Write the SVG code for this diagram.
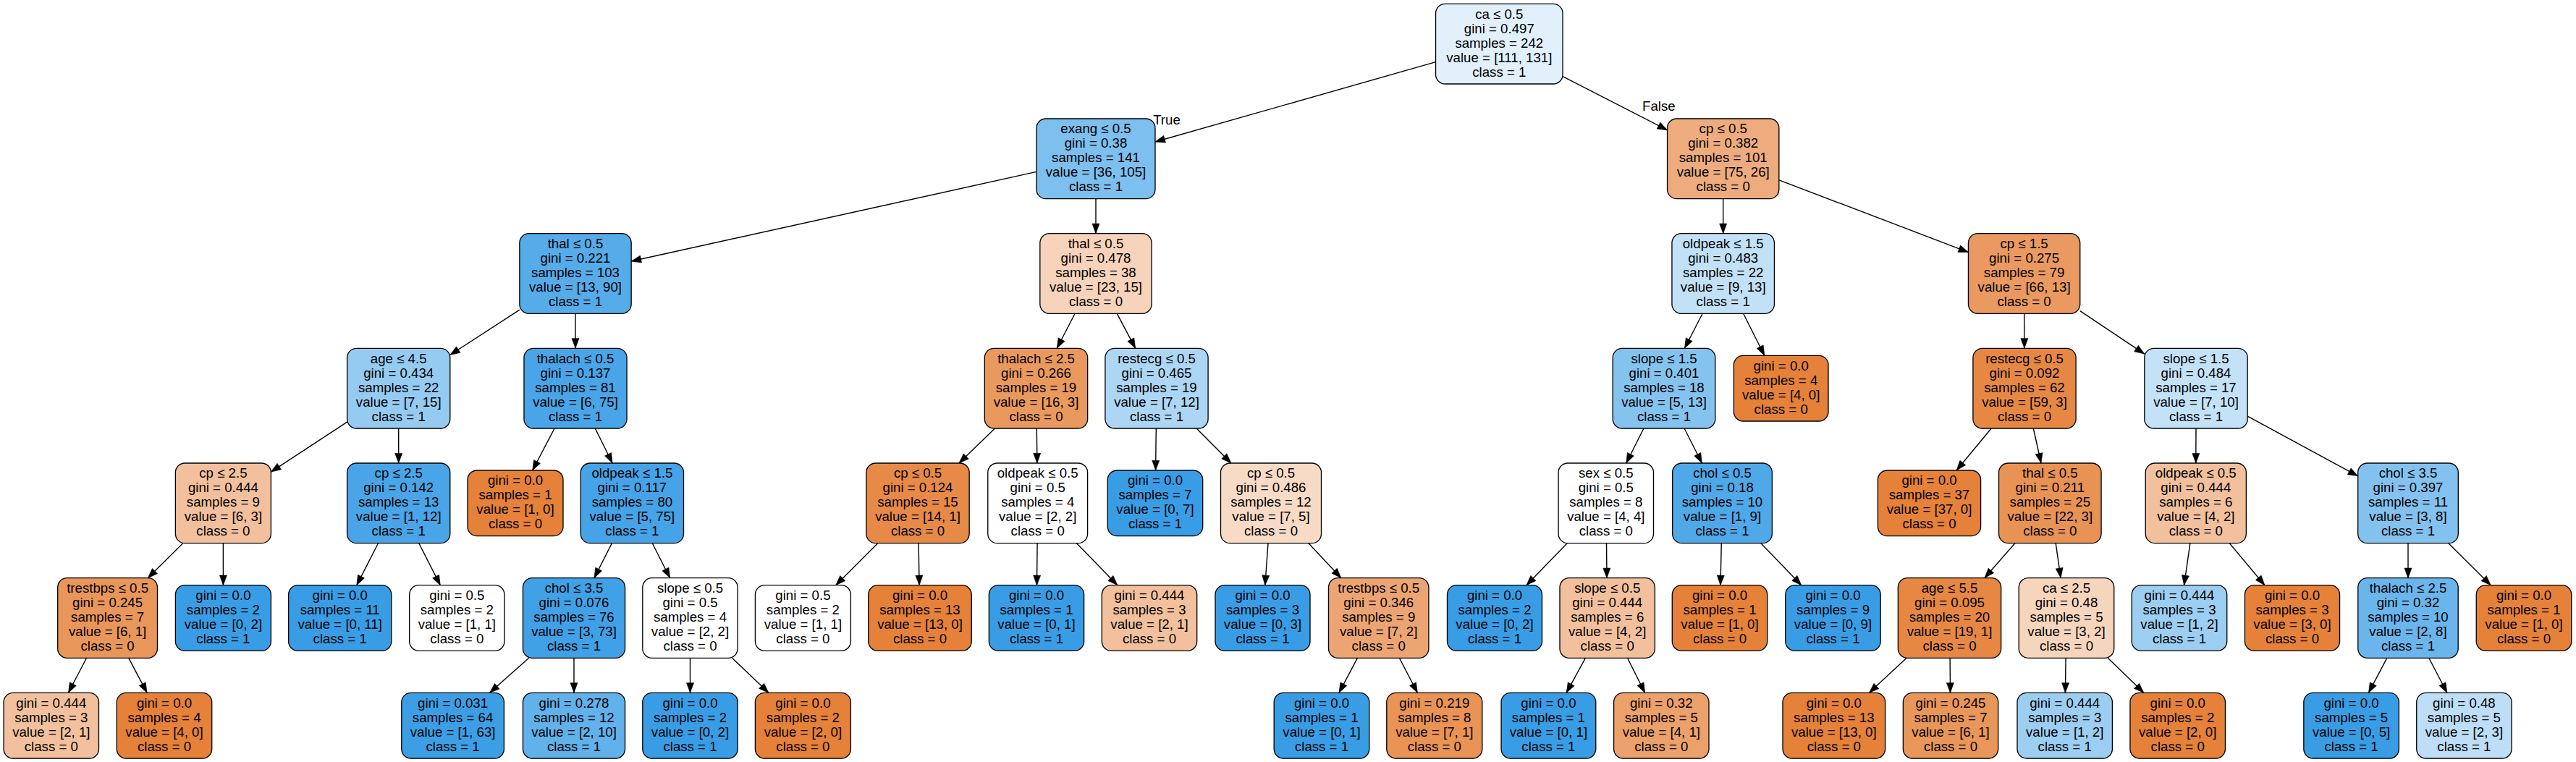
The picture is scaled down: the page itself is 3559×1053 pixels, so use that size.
<svg xmlns="http://www.w3.org/2000/svg" width="3559" height="1053" viewBox="0 0 3559 1053">
<style>
.nd rect{stroke:#000;stroke-width:1.33}
.nd text,.lbl{font-family:"Liberation Sans",Arial,Helvetica,sans-serif;font-size:18.67px;text-anchor:middle;fill:#000}
#edges line{stroke:#000;stroke-width:1.4;fill:none;marker-end:url(#arr)}
</style>
<defs>
<marker id="arr" markerUnits="userSpaceOnUse" markerWidth="16" markerHeight="12" refX="13.6" refY="5" orient="auto" overflow="visible"><path d="M0,0 L13.6,5 L0,10 Z" fill="#000" stroke="#000" stroke-width="0.6" stroke-linejoin="round"/></marker>
</defs>
<rect x="0" y="0" width="3559" height="1053" fill="#fff"/>
<g id="edges">
<line x1="1983.6" y1="85.7" x2="1596" y2="196"/>
<line x1="2159.1" y1="105.7" x2="2303.6" y2="179.8"/>
<line x1="1432" y1="237.4" x2="872.2" y2="361"/>
<line x1="1514" y1="274.7" x2="1514" y2="322.7"/>
<line x1="717.9" y1="428.1" x2="621.8" y2="490.5"/>
<line x1="795" y1="433.3" x2="795" y2="481.3"/>
<line x1="479.6" y1="583.2" x2="374.4" y2="652.1"/>
<line x1="550.7" y1="592" x2="550.7" y2="640"/>
<line x1="252.7" y1="750.7" x2="204.3" y2="798.7"/>
<line x1="308.4" y1="750.7" x2="308.4" y2="808.7"/>
<line x1="119.6" y1="909.3" x2="94.5" y2="957.3"/>
<line x1="177.8" y1="909.3" x2="203.1" y2="957.3"/>
<line x1="522.5" y1="750.7" x2="492.8" y2="808.7"/>
<line x1="578.8" y1="750.7" x2="608.3" y2="808.7"/>
<line x1="766.1" y1="592" x2="735.7" y2="650"/>
<line x1="822.3" y1="592" x2="846.1" y2="640"/>
<line x1="845.4" y1="750.7" x2="821" y2="798.7"/>
<line x1="901.3" y1="750.7" x2="925.6" y2="798.7"/>
<line x1="730.7" y1="909.3" x2="676.6" y2="957.3"/>
<line x1="793" y1="909.3" x2="793" y2="957.3"/>
<line x1="953.5" y1="909.3" x2="953.5" y2="957.3"/>
<line x1="1011.5" y1="909.3" x2="1061.9" y2="957.3"/>
<line x1="1485.2" y1="433.3" x2="1460.3" y2="481.3"/>
<line x1="1543.3" y1="433.3" x2="1568.7" y2="481.3"/>
<line x1="1374.5" y1="592" x2="1325" y2="640"/>
<line x1="1432.3" y1="592" x2="1432.9" y2="640"/>
<line x1="1212.7" y1="750.7" x2="1154.7" y2="808.7"/>
<line x1="1269.1" y1="750.7" x2="1270.1" y2="808.7"/>
<line x1="1433.1" y1="750.7" x2="1432.5" y2="808.7"/>
<line x1="1487.5" y1="750.7" x2="1543.9" y2="808.7"/>
<line x1="1597.3" y1="592" x2="1596.6" y2="650"/>
<line x1="1653.1" y1="592" x2="1700.9" y2="640"/>
<line x1="1752" y1="750.7" x2="1747.8" y2="808.7"/>
<line x1="1807.9" y1="750.7" x2="1852.9" y2="798.7"/>
<line x1="1875.4" y1="909.3" x2="1850" y2="957.3"/>
<line x1="1933.4" y1="909.3" x2="1958.3" y2="957.3"/>
<line x1="2380.7" y1="274.7" x2="2380.7" y2="322.7"/>
<line x1="2457.9" y1="248.8" x2="2719.5" y2="348.6"/>
<line x1="2352.2" y1="433.3" x2="2327.5" y2="481.3"/>
<line x1="2408.6" y1="433.3" x2="2437.8" y2="491.3"/>
<line x1="2271" y1="592" x2="2246.8" y2="640"/>
<line x1="2327.1" y1="592" x2="2351.4" y2="640"/>
<line x1="2165.2" y1="750.7" x2="2108.9" y2="808.7"/>
<line x1="2219.5" y1="750.7" x2="2220" y2="798.7"/>
<line x1="2190.4" y1="909.3" x2="2164.2" y2="957.3"/>
<line x1="2248.5" y1="909.3" x2="2272.6" y2="957.3"/>
<line x1="2378.3" y1="750.7" x2="2377" y2="808.7"/>
<line x1="2432.9" y1="750.7" x2="2488.8" y2="808.7"/>
<line x1="2796.7" y1="433.3" x2="2796.9" y2="481.3"/>
<line x1="2873.8" y1="429.6" x2="2962.8" y2="489.1"/>
<line x1="2751.2" y1="592" x2="2703.1" y2="650"/>
<line x1="2809.3" y1="592" x2="2820" y2="640"/>
<line x1="2783.9" y1="750.7" x2="2741.9" y2="798.7"/>
<line x1="2840.2" y1="750.7" x2="2847.1" y2="798.7"/>
<line x1="2634.1" y1="909.3" x2="2582.5" y2="957.3"/>
<line x1="2694.1" y1="909.3" x2="2694.5" y2="957.3"/>
<line x1="2854.1" y1="909.3" x2="2853.4" y2="957.3"/>
<line x1="2912.2" y1="909.3" x2="2961.8" y2="957.3"/>
<line x1="3034" y1="592" x2="3033.8" y2="640"/>
<line x1="3105.2" y1="575.2" x2="3257.7" y2="657.8"/>
<line x1="3025.9" y1="750.7" x2="3017.5" y2="808.7"/>
<line x1="3080.3" y1="750.7" x2="3128.9" y2="808.7"/>
<line x1="3327" y1="750.7" x2="3327" y2="798.7"/>
<line x1="3382.8" y1="750.7" x2="3441.3" y2="808.7"/>
<line x1="3297.8" y1="909.3" x2="3272.5" y2="957.3"/>
<line x1="3355.8" y1="909.3" x2="3380.8" y2="957.3"/>
<text class="lbl" x="1612" y="171.7">True</text>
<text class="lbl" x="2291.8" y="153.3">False</text>
</g>
<g id="n0" class="nd" transform="translate(2071.3,60.67)"><rect x="-87.75" y="-55.33" width="175.5" height="110.67" rx="13" fill="#e1f0fb"/><text><tspan x="0" y="-35.07">ca ≤ 0.5</tspan><tspan x="0" y="-15.07">gini = 0.497</tspan><tspan x="0" y="4.93">samples = 242</tspan><tspan x="0" y="24.93">value = [111, 131]</tspan><tspan x="0" y="44.93">class = 1</tspan></text></g>
<g id="n1" class="nd" transform="translate(1514,219.33)"><rect x="-82" y="-55.33" width="164" height="110.67" rx="13" fill="#7dbfee"/><text><tspan x="0" y="-35.07">exang ≤ 0.5</tspan><tspan x="0" y="-15.07">gini = 0.38</tspan><tspan x="0" y="4.93">samples = 141</tspan><tspan x="0" y="24.93">value = [36, 105]</tspan><tspan x="0" y="44.93">class = 1</tspan></text></g>
<g id="n2" class="nd" transform="translate(795,378)"><rect x="-77.15" y="-55.33" width="154.3" height="110.67" rx="13" fill="#56abe9"/><text><tspan x="0" y="-35.07">thal ≤ 0.5</tspan><tspan x="0" y="-15.07">gini = 0.221</tspan><tspan x="0" y="4.93">samples = 103</tspan><tspan x="0" y="24.93">value = [13, 90]</tspan><tspan x="0" y="44.93">class = 1</tspan></text></g>
<g id="n3" class="nd" transform="translate(550.7,536.67)"><rect x="-71.1" y="-55.33" width="142.2" height="110.67" rx="13" fill="#95cbf1"/><text><tspan x="0" y="-35.07">age ≤ 4.5</tspan><tspan x="0" y="-15.07">gini = 0.434</tspan><tspan x="0" y="4.93">samples = 22</tspan><tspan x="0" y="24.93">value = [7, 15]</tspan><tspan x="0" y="44.93">class = 1</tspan></text></g>
<g id="n4" class="nd" transform="translate(308.4,695.33)"><rect x="-66" y="-55.33" width="132" height="110.67" rx="13" fill="#f2c09c"/><text><tspan x="0" y="-35.07">cp ≤ 2.5</tspan><tspan x="0" y="-15.07">gini = 0.444</tspan><tspan x="0" y="4.93">samples = 9</tspan><tspan x="0" y="24.93">value = [6, 3]</tspan><tspan x="0" y="44.93">class = 0</tspan></text></g>
<g id="n5" class="nd" transform="translate(148.6,854)"><rect x="-68.9" y="-55.33" width="137.8" height="110.67" rx="13" fill="#e9965a"/><text><tspan x="0" y="-35.07">trestbps ≤ 0.5</tspan><tspan x="0" y="-15.07">gini = 0.245</tspan><tspan x="0" y="4.93">samples = 7</tspan><tspan x="0" y="24.93">value = [6, 1]</tspan><tspan x="0" y="44.93">class = 0</tspan></text></g>
<g id="n6" class="nd" transform="translate(70.8,1002.67)"><rect x="-65.7" y="-45.33" width="131.4" height="90.67" rx="13" fill="#f2c09c"/><text><tspan x="0" y="-25.07">gini = 0.444</tspan><tspan x="0" y="-5.07">samples = 3</tspan><tspan x="0" y="14.93">value = [2, 1]</tspan><tspan x="0" y="34.93">class = 0</tspan></text></g>
<g id="n7" class="nd" transform="translate(227,1002.67)"><rect x="-65.7" y="-45.33" width="131.4" height="90.67" rx="13" fill="#e58139"/><text><tspan x="0" y="-25.07">gini = 0.0</tspan><tspan x="0" y="-5.07">samples = 4</tspan><tspan x="0" y="14.93">value = [4, 0]</tspan><tspan x="0" y="34.93">class = 0</tspan></text></g>
<g id="n8" class="nd" transform="translate(308.4,854)"><rect x="-66" y="-45.33" width="132" height="90.67" rx="13" fill="#399de5"/><text><tspan x="0" y="-25.07">gini = 0.0</tspan><tspan x="0" y="-5.07">samples = 2</tspan><tspan x="0" y="14.93">value = [0, 2]</tspan><tspan x="0" y="34.93">class = 1</tspan></text></g>
<g id="n9" class="nd" transform="translate(550.7,695.33)"><rect x="-71.1" y="-55.33" width="142.2" height="110.67" rx="13" fill="#49a5e7"/><text><tspan x="0" y="-35.07">cp ≤ 2.5</tspan><tspan x="0" y="-15.07">gini = 0.142</tspan><tspan x="0" y="4.93">samples = 13</tspan><tspan x="0" y="24.93">value = [1, 12]</tspan><tspan x="0" y="44.93">class = 1</tspan></text></g>
<g id="n10" class="nd" transform="translate(469.7,854)"><rect x="-71.1" y="-45.33" width="142.2" height="90.67" rx="13" fill="#399de5"/><text><tspan x="0" y="-25.07">gini = 0.0</tspan><tspan x="0" y="-5.07">samples = 11</tspan><tspan x="0" y="14.93">value = [0, 11]</tspan><tspan x="0" y="34.93">class = 1</tspan></text></g>
<g id="n11" class="nd" transform="translate(631.3,854)"><rect x="-65.65" y="-45.33" width="131.3" height="90.67" rx="13" fill="#ffffff"/><text><tspan x="0" y="-25.07">gini = 0.5</tspan><tspan x="0" y="-5.07">samples = 2</tspan><tspan x="0" y="14.93">value = [1, 1]</tspan><tspan x="0" y="34.93">class = 0</tspan></text></g>
<g id="n12" class="nd" transform="translate(795,536.67)"><rect x="-71.05" y="-55.33" width="142.1" height="110.67" rx="13" fill="#49a5e7"/><text><tspan x="0" y="-35.07">thalach ≤ 0.5</tspan><tspan x="0" y="-15.07">gini = 0.137</tspan><tspan x="0" y="4.93">samples = 81</tspan><tspan x="0" y="24.93">value = [6, 75]</tspan><tspan x="0" y="44.93">class = 1</tspan></text></g>
<g id="n13" class="nd" transform="translate(712,695.33)"><rect x="-66" y="-45.33" width="132" height="90.67" rx="13" fill="#e58139"/><text><tspan x="0" y="-25.07">gini = 0.0</tspan><tspan x="0" y="-5.07">samples = 1</tspan><tspan x="0" y="14.93">value = [1, 0]</tspan><tspan x="0" y="34.93">class = 0</tspan></text></g>
<g id="n14" class="nd" transform="translate(873.4,695.33)"><rect x="-71.1" y="-55.33" width="142.2" height="110.67" rx="13" fill="#46a3e7"/><text><tspan x="0" y="-35.07">oldpeak ≤ 1.5</tspan><tspan x="0" y="-15.07">gini = 0.117</tspan><tspan x="0" y="4.93">samples = 80</tspan><tspan x="0" y="24.93">value = [5, 75]</tspan><tspan x="0" y="44.93">class = 1</tspan></text></g>
<g id="n15" class="nd" transform="translate(793,854)"><rect x="-70.55" y="-55.33" width="141.1" height="110.67" rx="13" fill="#41a1e6"/><text><tspan x="0" y="-35.07">chol ≤ 3.5</tspan><tspan x="0" y="-15.07">gini = 0.076</tspan><tspan x="0" y="4.93">samples = 76</tspan><tspan x="0" y="24.93">value = [3, 73]</tspan><tspan x="0" y="44.93">class = 1</tspan></text></g>
<g id="n16" class="nd" transform="translate(625.6,1002.67)"><rect x="-70.8" y="-45.33" width="141.6" height="90.67" rx="13" fill="#3c9fe5"/><text><tspan x="0" y="-25.07">gini = 0.031</tspan><tspan x="0" y="-5.07">samples = 64</tspan><tspan x="0" y="14.93">value = [1, 63]</tspan><tspan x="0" y="34.93">class = 1</tspan></text></g>
<g id="n17" class="nd" transform="translate(793,1002.67)"><rect x="-70.55" y="-45.33" width="141.1" height="90.67" rx="13" fill="#61b1ea"/><text><tspan x="0" y="-25.07">gini = 0.278</tspan><tspan x="0" y="-5.07">samples = 12</tspan><tspan x="0" y="14.93">value = [2, 10]</tspan><tspan x="0" y="34.93">class = 1</tspan></text></g>
<g id="n18" class="nd" transform="translate(953.5,854)"><rect x="-65.7" y="-55.33" width="131.4" height="110.67" rx="13" fill="#ffffff"/><text><tspan x="0" y="-35.07">slope ≤ 0.5</tspan><tspan x="0" y="-15.07">gini = 0.5</tspan><tspan x="0" y="4.93">samples = 4</tspan><tspan x="0" y="24.93">value = [2, 2]</tspan><tspan x="0" y="44.93">class = 0</tspan></text></g>
<g id="n19" class="nd" transform="translate(953.5,1002.67)"><rect x="-65.7" y="-45.33" width="131.4" height="90.67" rx="13" fill="#399de5"/><text><tspan x="0" y="-25.07">gini = 0.0</tspan><tspan x="0" y="-5.07">samples = 2</tspan><tspan x="0" y="14.93">value = [0, 2]</tspan><tspan x="0" y="34.93">class = 1</tspan></text></g>
<g id="n20" class="nd" transform="translate(1109.4,1002.67)"><rect x="-66" y="-45.33" width="132" height="90.67" rx="13" fill="#e58139"/><text><tspan x="0" y="-25.07">gini = 0.0</tspan><tspan x="0" y="-5.07">samples = 2</tspan><tspan x="0" y="14.93">value = [2, 0]</tspan><tspan x="0" y="34.93">class = 0</tspan></text></g>
<g id="n21" class="nd" transform="translate(1514,378)"><rect x="-77.15" y="-55.33" width="154.3" height="110.67" rx="13" fill="#f6d3ba"/><text><tspan x="0" y="-35.07">thal ≤ 0.5</tspan><tspan x="0" y="-15.07">gini = 0.478</tspan><tspan x="0" y="4.93">samples = 38</tspan><tspan x="0" y="24.93">value = [23, 15]</tspan><tspan x="0" y="44.93">class = 0</tspan></text></g>
<g id="n22" class="nd" transform="translate(1431.5,536.67)"><rect x="-71.15" y="-55.33" width="142.3" height="110.67" rx="13" fill="#ea995e"/><text><tspan x="0" y="-35.07">thalach ≤ 2.5</tspan><tspan x="0" y="-15.07">gini = 0.266</tspan><tspan x="0" y="4.93">samples = 19</tspan><tspan x="0" y="24.93">value = [16, 3]</tspan><tspan x="0" y="44.93">class = 0</tspan></text></g>
<g id="n23" class="nd" transform="translate(1268,695.33)"><rect x="-71.15" y="-55.33" width="142.3" height="110.67" rx="13" fill="#e78a47"/><text><tspan x="0" y="-35.07">cp ≤ 0.5</tspan><tspan x="0" y="-15.07">gini = 0.124</tspan><tspan x="0" y="4.93">samples = 15</tspan><tspan x="0" y="24.93">value = [14, 1]</tspan><tspan x="0" y="44.93">class = 0</tspan></text></g>
<g id="n24" class="nd" transform="translate(1109.4,854)"><rect x="-66" y="-45.33" width="132" height="90.67" rx="13" fill="#ffffff"/><text><tspan x="0" y="-25.07">gini = 0.5</tspan><tspan x="0" y="-5.07">samples = 2</tspan><tspan x="0" y="14.93">value = [1, 1]</tspan><tspan x="0" y="34.93">class = 0</tspan></text></g>
<g id="n25" class="nd" transform="translate(1271,854)"><rect x="-71.25" y="-45.33" width="142.5" height="90.67" rx="13" fill="#e58139"/><text><tspan x="0" y="-25.07">gini = 0.0</tspan><tspan x="0" y="-5.07">samples = 13</tspan><tspan x="0" y="14.93">value = [13, 0]</tspan><tspan x="0" y="34.93">class = 0</tspan></text></g>
<g id="n26" class="nd" transform="translate(1433.7,695.33)"><rect x="-68.9" y="-55.33" width="137.8" height="110.67" rx="13" fill="#ffffff"/><text><tspan x="0" y="-35.07">oldpeak ≤ 0.5</tspan><tspan x="0" y="-15.07">gini = 0.5</tspan><tspan x="0" y="4.93">samples = 4</tspan><tspan x="0" y="24.93">value = [2, 2]</tspan><tspan x="0" y="44.93">class = 0</tspan></text></g>
<g id="n27" class="nd" transform="translate(1432,854)"><rect x="-65.65" y="-45.33" width="131.3" height="90.67" rx="13" fill="#399de5"/><text><tspan x="0" y="-25.07">gini = 0.0</tspan><tspan x="0" y="-5.07">samples = 1</tspan><tspan x="0" y="14.93">value = [0, 1]</tspan><tspan x="0" y="34.93">class = 1</tspan></text></g>
<g id="n28" class="nd" transform="translate(1588,854)"><rect x="-65.7" y="-45.33" width="131.4" height="90.67" rx="13" fill="#f2c09c"/><text><tspan x="0" y="-25.07">gini = 0.444</tspan><tspan x="0" y="-5.07">samples = 3</tspan><tspan x="0" y="14.93">value = [2, 1]</tspan><tspan x="0" y="34.93">class = 0</tspan></text></g>
<g id="n29" class="nd" transform="translate(1598,536.67)"><rect x="-71.1" y="-55.33" width="142.2" height="110.67" rx="13" fill="#acd6f4"/><text><tspan x="0" y="-35.07">restecg ≤ 0.5</tspan><tspan x="0" y="-15.07">gini = 0.465</tspan><tspan x="0" y="4.93">samples = 19</tspan><tspan x="0" y="24.93">value = [7, 12]</tspan><tspan x="0" y="44.93">class = 1</tspan></text></g>
<g id="n30" class="nd" transform="translate(1596,695.33)"><rect x="-65.7" y="-45.33" width="131.4" height="90.67" rx="13" fill="#399de5"/><text><tspan x="0" y="-25.07">gini = 0.0</tspan><tspan x="0" y="-5.07">samples = 7</tspan><tspan x="0" y="14.93">value = [0, 7]</tspan><tspan x="0" y="34.93">class = 1</tspan></text></g>
<g id="n31" class="nd" transform="translate(1756,695.33)"><rect x="-69.5" y="-55.33" width="139" height="110.67" rx="13" fill="#f8dbc6"/><text><tspan x="0" y="-35.07">cp ≤ 0.5</tspan><tspan x="0" y="-15.07">gini = 0.486</tspan><tspan x="0" y="4.93">samples = 12</tspan><tspan x="0" y="24.93">value = [7, 5]</tspan><tspan x="0" y="44.93">class = 0</tspan></text></g>
<g id="n32" class="nd" transform="translate(1744.5,854)"><rect x="-65.5" y="-45.33" width="131" height="90.67" rx="13" fill="#399de5"/><text><tspan x="0" y="-25.07">gini = 0.0</tspan><tspan x="0" y="-5.07">samples = 3</tspan><tspan x="0" y="14.93">value = [0, 3]</tspan><tspan x="0" y="34.93">class = 1</tspan></text></g>
<g id="n33" class="nd" transform="translate(1904.7,854)"><rect x="-69.2" y="-55.33" width="138.4" height="110.67" rx="13" fill="#eca572"/><text><tspan x="0" y="-35.07">trestbps ≤ 0.5</tspan><tspan x="0" y="-15.07">gini = 0.346</tspan><tspan x="0" y="4.93">samples = 9</tspan><tspan x="0" y="24.93">value = [7, 2]</tspan><tspan x="0" y="44.93">class = 0</tspan></text></g>
<g id="n34" class="nd" transform="translate(1826,1002.67)"><rect x="-65.8" y="-45.33" width="131.6" height="90.67" rx="13" fill="#399de5"/><text><tspan x="0" y="-25.07">gini = 0.0</tspan><tspan x="0" y="-5.07">samples = 1</tspan><tspan x="0" y="14.93">value = [0, 1]</tspan><tspan x="0" y="34.93">class = 1</tspan></text></g>
<g id="n35" class="nd" transform="translate(1981.8,1002.67)"><rect x="-66" y="-45.33" width="132" height="90.67" rx="13" fill="#e99355"/><text><tspan x="0" y="-25.07">gini = 0.219</tspan><tspan x="0" y="-5.07">samples = 8</tspan><tspan x="0" y="14.93">value = [7, 1]</tspan><tspan x="0" y="34.93">class = 0</tspan></text></g>
<g id="n36" class="nd" transform="translate(2380.7,219.33)"><rect x="-77.15" y="-55.33" width="154.3" height="110.67" rx="13" fill="#eeac7e"/><text><tspan x="0" y="-35.07">cp ≤ 0.5</tspan><tspan x="0" y="-15.07">gini = 0.382</tspan><tspan x="0" y="4.93">samples = 101</tspan><tspan x="0" y="24.93">value = [75, 26]</tspan><tspan x="0" y="44.93">class = 0</tspan></text></g>
<g id="n37" class="nd" transform="translate(2380.7,378)"><rect x="-70.75" y="-55.33" width="141.5" height="110.67" rx="13" fill="#c2e1f7"/><text><tspan x="0" y="-35.07">oldpeak ≤ 1.5</tspan><tspan x="0" y="-15.07">gini = 0.483</tspan><tspan x="0" y="4.93">samples = 22</tspan><tspan x="0" y="24.93">value = [9, 13]</tspan><tspan x="0" y="44.93">class = 1</tspan></text></g>
<g id="n38" class="nd" transform="translate(2299,536.67)"><rect x="-70.8" y="-55.33" width="141.6" height="110.67" rx="13" fill="#85c3ef"/><text><tspan x="0" y="-35.07">slope ≤ 1.5</tspan><tspan x="0" y="-15.07">gini = 0.401</tspan><tspan x="0" y="4.93">samples = 18</tspan><tspan x="0" y="24.93">value = [5, 13]</tspan><tspan x="0" y="44.93">class = 1</tspan></text></g>
<g id="n39" class="nd" transform="translate(2218.8,695.33)"><rect x="-65.7" y="-55.33" width="131.4" height="110.67" rx="13" fill="#ffffff"/><text><tspan x="0" y="-35.07">sex ≤ 0.5</tspan><tspan x="0" y="-15.07">gini = 0.5</tspan><tspan x="0" y="4.93">samples = 8</tspan><tspan x="0" y="24.93">value = [4, 4]</tspan><tspan x="0" y="44.93">class = 0</tspan></text></g>
<g id="n40" class="nd" transform="translate(2065,854)"><rect x="-65.5" y="-45.33" width="131" height="90.67" rx="13" fill="#399de5"/><text><tspan x="0" y="-25.07">gini = 0.0</tspan><tspan x="0" y="-5.07">samples = 2</tspan><tspan x="0" y="14.93">value = [0, 2]</tspan><tspan x="0" y="34.93">class = 1</tspan></text></g>
<g id="n41" class="nd" transform="translate(2220.7,854)"><rect x="-65.7" y="-55.33" width="131.4" height="110.67" rx="13" fill="#f2c09c"/><text><tspan x="0" y="-35.07">slope ≤ 0.5</tspan><tspan x="0" y="-15.07">gini = 0.444</tspan><tspan x="0" y="4.93">samples = 6</tspan><tspan x="0" y="24.93">value = [4, 2]</tspan><tspan x="0" y="44.93">class = 0</tspan></text></g>
<g id="n42" class="nd" transform="translate(2139.4,1002.67)"><rect x="-65.35" y="-45.33" width="130.7" height="90.67" rx="13" fill="#399de5"/><text><tspan x="0" y="-25.07">gini = 0.0</tspan><tspan x="0" y="-5.07">samples = 1</tspan><tspan x="0" y="14.93">value = [0, 1]</tspan><tspan x="0" y="34.93">class = 1</tspan></text></g>
<g id="n43" class="nd" transform="translate(2295.3,1002.67)"><rect x="-65.7" y="-45.33" width="131.4" height="90.67" rx="13" fill="#eca06a"/><text><tspan x="0" y="-25.07">gini = 0.32</tspan><tspan x="0" y="-5.07">samples = 5</tspan><tspan x="0" y="14.93">value = [4, 1]</tspan><tspan x="0" y="34.93">class = 0</tspan></text></g>
<g id="n44" class="nd" transform="translate(2379.5,695.33)"><rect x="-68.85" y="-55.33" width="137.7" height="110.67" rx="13" fill="#4fa8e8"/><text><tspan x="0" y="-35.07">chol ≤ 0.5</tspan><tspan x="0" y="-15.07">gini = 0.18</tspan><tspan x="0" y="4.93">samples = 10</tspan><tspan x="0" y="24.93">value = [1, 9]</tspan><tspan x="0" y="44.93">class = 1</tspan></text></g>
<g id="n45" class="nd" transform="translate(2376,854)"><rect x="-65.7" y="-45.33" width="131.4" height="90.67" rx="13" fill="#e58139"/><text><tspan x="0" y="-25.07">gini = 0.0</tspan><tspan x="0" y="-5.07">samples = 1</tspan><tspan x="0" y="14.93">value = [1, 0]</tspan><tspan x="0" y="34.93">class = 0</tspan></text></g>
<g id="n46" class="nd" transform="translate(2532.5,854)"><rect x="-65.7" y="-45.33" width="131.4" height="90.67" rx="13" fill="#399de5"/><text><tspan x="0" y="-25.07">gini = 0.0</tspan><tspan x="0" y="-5.07">samples = 9</tspan><tspan x="0" y="14.93">value = [0, 9]</tspan><tspan x="0" y="34.93">class = 1</tspan></text></g>
<g id="n47" class="nd" transform="translate(2460.7,536.67)"><rect x="-65.3" y="-45.33" width="130.6" height="90.67" rx="13" fill="#e58139"/><text><tspan x="0" y="-25.07">gini = 0.0</tspan><tspan x="0" y="-5.07">samples = 4</tspan><tspan x="0" y="14.93">value = [4, 0]</tspan><tspan x="0" y="34.93">class = 0</tspan></text></g>
<g id="n48" class="nd" transform="translate(2796.6,378)"><rect x="-77.15" y="-55.33" width="154.3" height="110.67" rx="13" fill="#ea9a60"/><text><tspan x="0" y="-35.07">cp ≤ 1.5</tspan><tspan x="0" y="-15.07">gini = 0.275</tspan><tspan x="0" y="4.93">samples = 79</tspan><tspan x="0" y="24.93">value = [66, 13]</tspan><tspan x="0" y="44.93">class = 0</tspan></text></g>
<g id="n49" class="nd" transform="translate(2797,536.67)"><rect x="-71.1" y="-55.33" width="142.2" height="110.67" rx="13" fill="#e68843"/><text><tspan x="0" y="-35.07">restecg ≤ 0.5</tspan><tspan x="0" y="-15.07">gini = 0.092</tspan><tspan x="0" y="4.93">samples = 62</tspan><tspan x="0" y="24.93">value = [59, 3]</tspan><tspan x="0" y="44.93">class = 0</tspan></text></g>
<g id="n50" class="nd" transform="translate(2665.5,695.33)"><rect x="-71.1" y="-45.33" width="142.2" height="90.67" rx="13" fill="#e58139"/><text><tspan x="0" y="-25.07">gini = 0.0</tspan><tspan x="0" y="-5.07">samples = 37</tspan><tspan x="0" y="14.93">value = [37, 0]</tspan><tspan x="0" y="34.93">class = 0</tspan></text></g>
<g id="n51" class="nd" transform="translate(2832.3,695.33)"><rect x="-70.75" y="-55.33" width="141.5" height="110.67" rx="13" fill="#e89254"/><text><tspan x="0" y="-35.07">thal ≤ 0.5</tspan><tspan x="0" y="-15.07">gini = 0.211</tspan><tspan x="0" y="4.93">samples = 25</tspan><tspan x="0" y="24.93">value = [22, 3]</tspan><tspan x="0" y="44.93">class = 0</tspan></text></g>
<g id="n52" class="nd" transform="translate(2693.5,854)"><rect x="-71.15" y="-55.33" width="142.3" height="110.67" rx="13" fill="#e68843"/><text><tspan x="0" y="-35.07">age ≤ 5.5</tspan><tspan x="0" y="-15.07">gini = 0.095</tspan><tspan x="0" y="4.93">samples = 20</tspan><tspan x="0" y="24.93">value = [19, 1]</tspan><tspan x="0" y="44.93">class = 0</tspan></text></g>
<g id="n53" class="nd" transform="translate(2533.8,1002.67)"><rect x="-70.8" y="-45.33" width="141.6" height="90.67" rx="13" fill="#e58139"/><text><tspan x="0" y="-25.07">gini = 0.0</tspan><tspan x="0" y="-5.07">samples = 13</tspan><tspan x="0" y="14.93">value = [13, 0]</tspan><tspan x="0" y="34.93">class = 0</tspan></text></g>
<g id="n54" class="nd" transform="translate(2695,1002.67)"><rect x="-65.65" y="-45.33" width="131.3" height="90.67" rx="13" fill="#e9965a"/><text><tspan x="0" y="-25.07">gini = 0.245</tspan><tspan x="0" y="-5.07">samples = 7</tspan><tspan x="0" y="14.93">value = [6, 1]</tspan><tspan x="0" y="34.93">class = 0</tspan></text></g>
<g id="n55" class="nd" transform="translate(2855,854)"><rect x="-65.75" y="-55.33" width="131.5" height="110.67" rx="13" fill="#f6d5bd"/><text><tspan x="0" y="-35.07">ca ≤ 2.5</tspan><tspan x="0" y="-15.07">gini = 0.48</tspan><tspan x="0" y="4.93">samples = 5</tspan><tspan x="0" y="24.93">value = [3, 2]</tspan><tspan x="0" y="44.93">class = 0</tspan></text></g>
<g id="n56" class="nd" transform="translate(2852.7,1002.67)"><rect x="-65.7" y="-45.33" width="131.4" height="90.67" rx="13" fill="#9ccef2"/><text><tspan x="0" y="-25.07">gini = 0.444</tspan><tspan x="0" y="-5.07">samples = 3</tspan><tspan x="0" y="14.93">value = [1, 2]</tspan><tspan x="0" y="34.93">class = 1</tspan></text></g>
<g id="n57" class="nd" transform="translate(3008.7,1002.67)"><rect x="-65.75" y="-45.33" width="131.5" height="90.67" rx="13" fill="#e58139"/><text><tspan x="0" y="-25.07">gini = 0.0</tspan><tspan x="0" y="-5.07">samples = 2</tspan><tspan x="0" y="14.93">value = [2, 0]</tspan><tspan x="0" y="34.93">class = 0</tspan></text></g>
<g id="n58" class="nd" transform="translate(3034,536.67)"><rect x="-71.2" y="-55.33" width="142.4" height="110.67" rx="13" fill="#c4e2f7"/><text><tspan x="0" y="-35.07">slope ≤ 1.5</tspan><tspan x="0" y="-15.07">gini = 0.484</tspan><tspan x="0" y="4.93">samples = 17</tspan><tspan x="0" y="24.93">value = [7, 10]</tspan><tspan x="0" y="44.93">class = 1</tspan></text></g>
<g id="n59" class="nd" transform="translate(3033.8,695.33)"><rect x="-69.55" y="-55.33" width="139.1" height="110.67" rx="13" fill="#f2c09c"/><text><tspan x="0" y="-35.07">oldpeak ≤ 0.5</tspan><tspan x="0" y="-15.07">gini = 0.444</tspan><tspan x="0" y="4.93">samples = 6</tspan><tspan x="0" y="24.93">value = [4, 2]</tspan><tspan x="0" y="44.93">class = 0</tspan></text></g>
<g id="n60" class="nd" transform="translate(3011,854)"><rect x="-65.75" y="-45.33" width="131.5" height="90.67" rx="13" fill="#9ccef2"/><text><tspan x="0" y="-25.07">gini = 0.444</tspan><tspan x="0" y="-5.07">samples = 3</tspan><tspan x="0" y="14.93">value = [1, 2]</tspan><tspan x="0" y="34.93">class = 1</tspan></text></g>
<g id="n61" class="nd" transform="translate(3167,854)"><rect x="-65.55" y="-45.33" width="131.1" height="90.67" rx="13" fill="#e58139"/><text><tspan x="0" y="-25.07">gini = 0.0</tspan><tspan x="0" y="-5.07">samples = 3</tspan><tspan x="0" y="14.93">value = [3, 0]</tspan><tspan x="0" y="34.93">class = 0</tspan></text></g>
<g id="n62" class="nd" transform="translate(3327,695.33)"><rect x="-69.3" y="-55.33" width="138.6" height="110.67" rx="13" fill="#83c2ef"/><text><tspan x="0" y="-35.07">chol ≤ 3.5</tspan><tspan x="0" y="-15.07">gini = 0.397</tspan><tspan x="0" y="4.93">samples = 11</tspan><tspan x="0" y="24.93">value = [3, 8]</tspan><tspan x="0" y="44.93">class = 1</tspan></text></g>
<g id="n63" class="nd" transform="translate(3327,854)"><rect x="-69.2" y="-55.33" width="138.4" height="110.67" rx="13" fill="#6ab6ec"/><text><tspan x="0" y="-35.07">thalach ≤ 2.5</tspan><tspan x="0" y="-15.07">gini = 0.32</tspan><tspan x="0" y="4.93">samples = 10</tspan><tspan x="0" y="24.93">value = [2, 8]</tspan><tspan x="0" y="44.93">class = 1</tspan></text></g>
<g id="n64" class="nd" transform="translate(3248.6,1002.67)"><rect x="-65.75" y="-45.33" width="131.5" height="90.67" rx="13" fill="#399de5"/><text><tspan x="0" y="-25.07">gini = 0.0</tspan><tspan x="0" y="-5.07">samples = 5</tspan><tspan x="0" y="14.93">value = [0, 5]</tspan><tspan x="0" y="34.93">class = 1</tspan></text></g>
<g id="n65" class="nd" transform="translate(3404.4,1002.67)"><rect x="-65.65" y="-45.33" width="131.3" height="90.67" rx="13" fill="#bddef6"/><text><tspan x="0" y="-25.07">gini = 0.48</tspan><tspan x="0" y="-5.07">samples = 5</tspan><tspan x="0" y="14.93">value = [2, 3]</tspan><tspan x="0" y="34.93">class = 1</tspan></text></g>
<g id="n66" class="nd" transform="translate(3487,854)"><rect x="-65.75" y="-45.33" width="131.5" height="90.67" rx="13" fill="#e58139"/><text><tspan x="0" y="-25.07">gini = 0.0</tspan><tspan x="0" y="-5.07">samples = 1</tspan><tspan x="0" y="14.93">value = [1, 0]</tspan><tspan x="0" y="34.93">class = 0</tspan></text></g>
</svg>
